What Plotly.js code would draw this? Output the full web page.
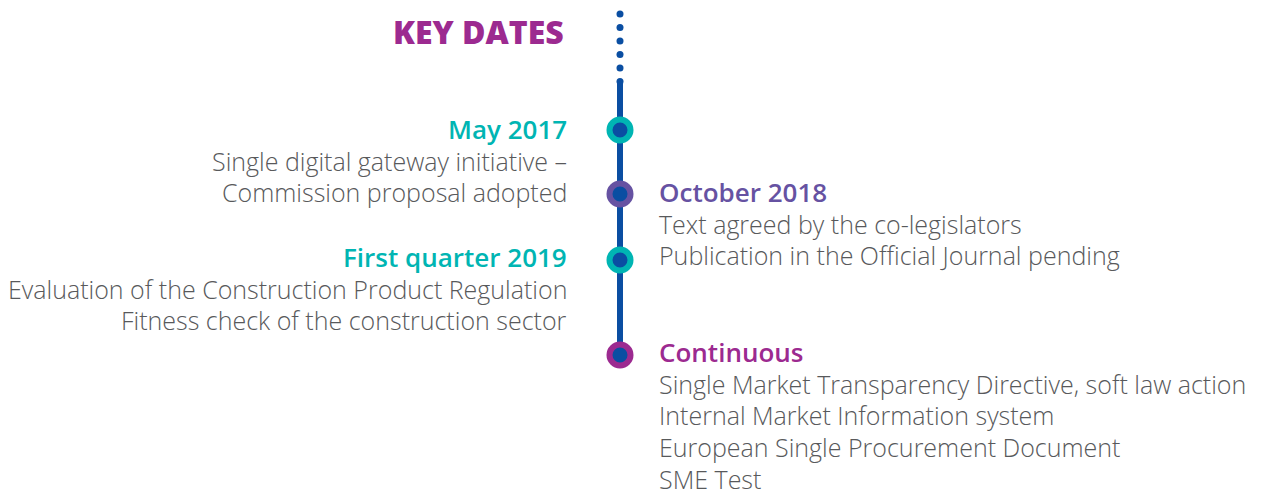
<!DOCTYPE html>
<html><head><meta charset="utf-8">
<script src="https://cdn.plot.ly/plotly-3.0.1.min.js"></script>
<style>html,body{margin:0;padding:0;background:#fff;}#chart{width:1277px;height:495px;}</style>
</head><body><div id="chart"></div>
<script>
// ---- data ----
const eventDates = ["May 2017", "October 2018", "First quarter 2019", "Continuous"];
const eventSides = ["left", "right", "left", "right"];
const eventPos = [130, 194, 260, 355]; // position along the timeline
const eventColors = ["#00b5b3", "#6652a2", "#00b5b3", "#9c2a90"];
const eventLines = [
  ["Single digital gateway initiative –", "Commission proposal adopted"],
  ["Text agreed by the co-legislators", "Publication in the Official Journal pending"],
  ["Evaluation of the Construction Product Regulation", "Fitness check of the construction sector"],
  ["Single Market Transparency Directive, soft law action", "Internal Market Information system", "European Single Procurement Document", "SME Test"]
];
const titleText = "KEY DATES";

// ---- styling/layout ----
const axisX = 620, leftX = 568, rightX = 658;
const headerY = [129, 192, 257, 352];
const lineGap = 31.7;
const blue = "#0a4ea2", grey = "#58595b";
const FONT = "Open Sans, sans-serif";

const traces = [];
// dotted lead-in
const dotsY = [];
for (let i = 0; i < 6; i++) dotsY.push(14 + i * 13.5);
traces.push({x: dotsY.map(() => axisX), y: dotsY, mode: "markers", type: "scatter",
  marker: {size: 7, color: blue}, hoverinfo: "skip", showlegend: false});
// solid line
traces.push({x: [axisX, axisX], y: [82, eventPos[eventPos.length - 1]], mode: "lines", type: "scatter",
  line: {color: blue, width: 6}, hoverinfo: "skip", showlegend: false});
// event markers
traces.push({x: eventPos.map(() => axisX), y: eventPos, mode: "markers", type: "scatter",
  marker: {size: 21, color: blue, line: {color: eventColors, width: 6}},
  text: eventDates, hoverinfo: "text", showlegend: false});

const annotations = [];
annotations.push({x: 566, y: 31, xref: "x", yref: "y", text: titleText, showarrow: false,
  xanchor: "right", yanchor: "middle", font: {family: FONT, size: 32, color: "#9c2a90", weight: 800}});
eventDates.forEach((d, i) => {
  const left = eventSides[i] === "left";
  const x = left ? leftX : rightX;
  annotations.push({x: x, y: headerY[i], xref: "x", yref: "y", text: d, showarrow: false,
    xanchor: left ? "right" : "left", yanchor: "middle", borderpad: 0,
    font: {family: FONT, size: 26, color: eventColors[i], weight: 600}});
  eventLines[i].forEach((t, j) => {
    annotations.push({x: x, y: headerY[i] + (j + 1) * lineGap, xref: "x", yref: "y", text: t, showarrow: false,
      xanchor: left ? "right" : "left", yanchor: "middle", borderpad: 0,
      font: {family: FONT, size: 25, color: grey, weight: 300}});
  });
});

const layout = {
  width: 1277, height: 495, margin: {l: 0, r: 0, t: 0, b: 0},
  paper_bgcolor: "#fff", plot_bgcolor: "#fff",
  xaxis: {range: [0, 1277], visible: false, fixedrange: true},
  yaxis: {range: [495, 0], visible: false, fixedrange: true},
  annotations: annotations, showlegend: false
};
Plotly.newPlot("chart", traces, layout, {displayModeBar: false, staticPlot: true});
</script></body></html>
